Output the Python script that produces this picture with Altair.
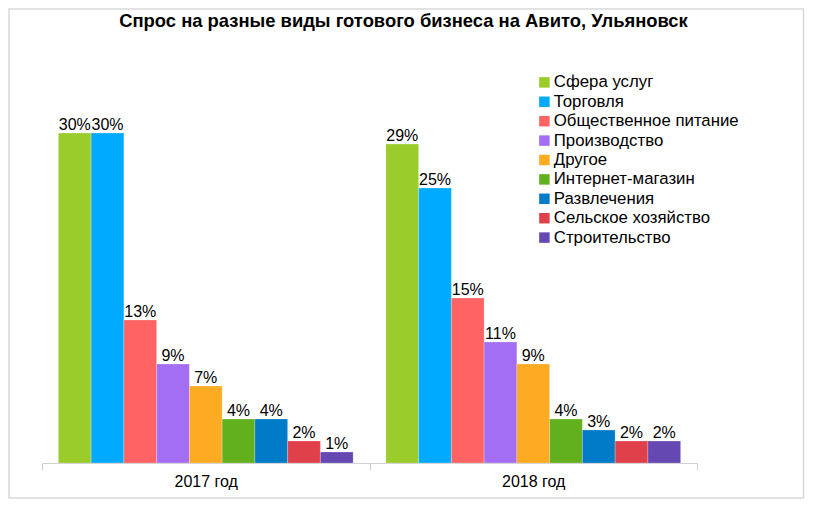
import altair as alt
import pandas as pd

title_text = "Спрос на разные виды готового бизнеса на Авито, Ульяновск"
categories = ["Сфера услуг", "Торговля", "Общественное питание", "Производство", "Другое",
              "Интернет-магазин", "Развлечения", "Сельское хозяйство", "Строительство"]
colors = ["#9ACD2B", "#00AAFF", "#FF6363", "#A46EF4", "#FDAB23",
          "#63B01F", "#007BC8", "#E0404A", "#6548B2"]
years = ["2017 год", "2018 год"]
values_2017 = [30, 30, 13, 9, 7, 4, 4, 2, 1]
values_2018 = [29, 25, 15, 11, 9, 4, 3, 2, 2]

rows = []
for yr, vals in zip(years, [values_2017, values_2018]):
    for c, v in zip(categories, vals):
        rows.append({"year": yr, "cat": c, "value": v, "label": f"{v}%"})
df = pd.DataFrame(rows)

FONT = "Liberation Sans"
PX_PER = 11.0
H = 403
W = 655

x_enc = alt.X("year:N", sort=years,
              scale=alt.Scale(paddingInner=0, paddingOuter=0),
              axis=alt.Axis(title=None, labelAngle=0, labelFont=FONT, labelFontSize=16,
                            labelColor="#000000", domainColor="#d0d0d0", tickColor="#d0d0d0",
                            tickSize=7, tickBand="extent", labelPadding=3, grid=False))
xoff = alt.XOffset("cat:N", sort=categories,
                   scale=alt.Scale(paddingInner=0, paddingOuter=0.5))
y_enc = alt.Y("value:Q", scale=alt.Scale(domain=[0, H / PX_PER], nice=False, zero=True),
              axis=None)

base = alt.Chart(df)

bars = base.mark_bar(stroke="#ffffff", strokeWidth=0.4, strokeOpacity=0.6).encode(
    x=x_enc, xOffset=xoff, y=y_enc,
    color=alt.Color("cat:N", sort=categories,
                    scale=alt.Scale(domain=categories, range=colors),
                    legend=alt.Legend(title=None, orient="none", legendX=494, legendY=14,
                                      symbolType="square", symbolSize=110,
                                      symbolStrokeWidth=0, labelFont=FONT, labelFontSize=16.8,
                                      labelColor="#000000", rowPadding=1.4, labelOffset=1,
                                      labelLimit=400, padding=0)),
)

text = base.mark_text(font=FONT, fontSize=16, color="#000000", baseline="alphabetic",
                      dy=-3).encode(
    x=x_enc, xOffset=xoff, y=y_enc, text="label:N"
)

single = alt.Chart(pd.DataFrame({"t": [title_text]}))

frame = single.mark_rect(
    fill=None, stroke="#d9d9d9", strokeWidth=1.5
).encode(x=alt.value(-33), x2=alt.value(761.5), y=alt.value(-51), y2=alt.value(438))

title = single.mark_text(font=FONT, fontSize=18.4, fontWeight="bold", color="#000000",
                         align="center", baseline="alphabetic").encode(
    x=alt.value(361.5), y=alt.value(-33.5), text="t:N"
)

chart = alt.layer(frame, title, bars, text).properties(
    width=W, height=H,
    autosize=alt.AutoSizeParams(type="none"),
    padding={"left": 34, "top": 52, "right": 108, "bottom": 36},
    background="#ffffff",
).configure_view(stroke=None)

chart.save("out.html", embed_options={"renderer": "svg", "actions": False})
